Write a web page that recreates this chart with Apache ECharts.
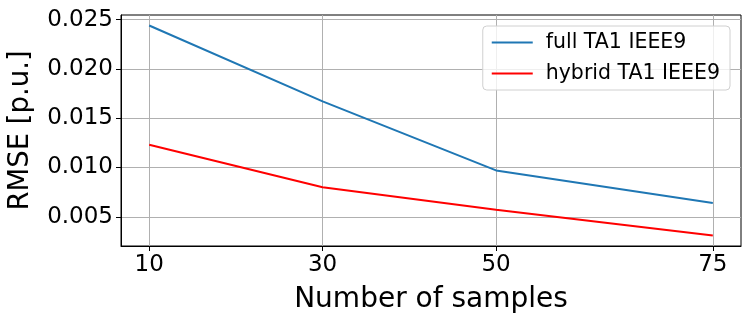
<!DOCTYPE html>
<html>
<head>
<meta charset="utf-8">
<script src="https://cdn.jsdelivr.net/npm/echarts@6/dist/echarts.min.js"></script>
<style>html,body{margin:0;padding:0;background:#fff}#c{width:750px;height:323px}</style>
</head>
<body>
<div id="c"></div>
<script>
var samples = [10, 30, 50, 75];
var fullTA1 = [0.0244, 0.0167, 0.0097, 0.0064];
var hybridTA1 = [0.0123, 0.0080, 0.0057, 0.0031];
var xTicks = [10, 30, 50, 75];
var yTicks = [0.005, 0.010, 0.015, 0.020, 0.025];
var seriesNames = ['full TA1 IEEE9', 'hybrid TA1 IEEE9'];

function pairs(xs, ys) { return xs.map(function (x, i) { return [x, ys[i]]; }); }

var font = 'DejaVu Sans';
var chart = echarts.init(document.getElementById('c'), null, { renderer: 'canvas' });
chart.setOption({
  animation: false,
  backgroundColor: '#fff',
  grid: { left: 121, right: 9, top: 15, bottom: 77, show: true, borderColor: '#000', borderWidth: 1,
    containLabel: false, outerBoundsMode: 'none' },
  legend: {
    orient: 'vertical', right: 20, top: 26,
    data: seriesNames,
    icon: 'rect',
    itemWidth: 41, itemHeight: 2, itemGap: 8,
    padding: [5, 10, 5, 9],
    backgroundColor: 'rgba(255,255,255,0.8)',
    borderColor: '#d0d0d0', borderWidth: 1, borderRadius: 4,
    textStyle: { fontFamily: font, fontSize: 20.5, lineHeight: 23, color: '#000', padding: [0, 0, 0, 8] }
  },
  xAxis: {
    type: 'value', min: 6.75, max: 78.25,
    name: 'Number of samples', nameLocation: 'middle', nameGap: 40,
    nameTextStyle: { fontFamily: font, fontSize: 28, color: '#000' },
    axisLine: { show: true, onZero: false, lineStyle: { color: '#000', width: 1 } },
    axisTick: { show: true, length: 5, customValues: xTicks, lineStyle: { color: '#000' } },
    axisLabel: { customValues: xTicks, fontFamily: font, fontSize: 23, color: '#000', margin: 8 },
    splitLine: { show: true, lineStyle: { color: '#b0b0b0', width: 1 } }
  },
  yAxis: {
    type: 'value', min: 0.002035, max: 0.025465,
    name: 'RMSE [p.u.]', nameLocation: 'middle', nameGap: 86,
    nameTextStyle: { fontFamily: font, fontSize: 27.5, color: '#000' },
    axisLine: { show: true, onZero: false, lineStyle: { color: '#000', width: 1 } },
    axisTick: { show: true, length: 5, customValues: yTicks, lineStyle: { color: '#000' } },
    axisLabel: { customValues: yTicks, fontFamily: font, fontSize: 23, color: '#000', margin: 8,
      formatter: function (v) { return v.toFixed(3); } },
    splitLine: { show: true, lineStyle: { color: '#b0b0b0', width: 1 } }
  },
  series: [
    { name: seriesNames[0], type: 'line', data: pairs(samples, fullTA1), symbol: 'none',
      lineStyle: { color: '#1f77b4', width: 2 }, itemStyle: { color: '#1f77b4' } },
    { name: seriesNames[1], type: 'line', data: pairs(samples, hybridTA1), symbol: 'none',
      lineStyle: { color: '#ff0000', width: 2 }, itemStyle: { color: '#ff0000' } }
  ]
});
</script>
</body>
</html>
